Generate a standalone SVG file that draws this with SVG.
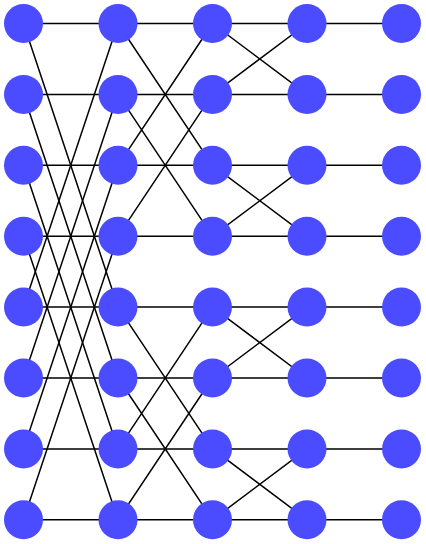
<svg xmlns="http://www.w3.org/2000/svg" width="426" height="544" viewBox="0 0 426 544">
<style>
.e{stroke:#000;stroke-width:1.5;fill:none}
.n{fill:#4b4bff}
</style>
<rect width="426" height="544" fill="#fff"/>
<g id="connectors" class="e">
<!-- stage 0-1: straight + distance 4 -->
<path d="M23.5 23.5H118M23.5 94.4H118M23.5 165.3H118M23.5 236.2H118M23.5 307.1H118M23.5 378H118M23.5 448.9H118M23.5 519.8H118"/>
<path d="M23.5 23.5L118 307.1M23.5 94.4L118 378M23.5 165.3L118 448.9M23.5 236.2L118 519.8"/>
<path d="M23.5 307.1L118 23.5M23.5 378L118 94.4M23.5 448.9L118 165.3M23.5 519.8L118 236.2"/>
<!-- stage 1-2: straight + distance 2 -->
<path d="M118 23.5H212.5M118 94.4H212.5M118 165.3H212.5M118 236.2H212.5M118 307.1H212.5M118 378H212.5M118 448.9H212.5M118 519.8H212.5"/>
<path d="M118 23.5L212.5 165.3M118 94.4L212.5 236.2M118 165.3L212.5 23.5M118 236.2L212.5 94.4"/>
<path d="M118 307.1L212.5 448.9M118 378L212.5 519.8M118 448.9L212.5 307.1M118 519.8L212.5 378"/>
<!-- stage 2-3: straight + distance 1 -->
<path d="M212.5 23.5H307M212.5 94.4H307M212.5 165.3H307M212.5 236.2H307M212.5 307.1H307M212.5 378H307M212.5 448.9H307M212.5 519.8H307"/>
<path d="M212.5 23.5L307 94.4M212.5 94.4L307 23.5M212.5 165.3L307 236.2M212.5 236.2L307 165.3"/>
<path d="M212.5 307.1L307 378M212.5 378L307 307.1M212.5 448.9L307 519.8M212.5 519.8L307 448.9"/>
<!-- stage 3-4: straight -->
<path d="M307 23.5H401.5M307 94.4H401.5M307 165.3H401.5M307 236.2H401.5M307 307.1H401.5M307 378H401.5M307 448.9H401.5M307 519.8H401.5"/>
</g>
<g id="col0" class="n">
<circle id="n0_0" cx="23.5" cy="23.5" r="19.5"/>
<circle id="n0_1" cx="23.5" cy="94.4" r="19.5"/>
<circle id="n0_2" cx="23.5" cy="165.3" r="19.5"/>
<circle id="n0_3" cx="23.5" cy="236.2" r="19.5"/>
<circle id="n0_4" cx="23.5" cy="307.1" r="19.5"/>
<circle id="n0_5" cx="23.5" cy="378" r="19.5"/>
<circle id="n0_6" cx="23.5" cy="448.9" r="19.5"/>
<circle id="n0_7" cx="23.5" cy="519.8" r="19.5"/>
</g>
<g id="col1" class="n">
<circle id="n1_0" cx="118" cy="23.5" r="19.5"/>
<circle id="n1_1" cx="118" cy="94.4" r="19.5"/>
<circle id="n1_2" cx="118" cy="165.3" r="19.5"/>
<circle id="n1_3" cx="118" cy="236.2" r="19.5"/>
<circle id="n1_4" cx="118" cy="307.1" r="19.5"/>
<circle id="n1_5" cx="118" cy="378" r="19.5"/>
<circle id="n1_6" cx="118" cy="448.9" r="19.5"/>
<circle id="n1_7" cx="118" cy="519.8" r="19.5"/>
</g>
<g id="col2" class="n">
<circle id="n2_0" cx="212.5" cy="23.5" r="19.5"/>
<circle id="n2_1" cx="212.5" cy="94.4" r="19.5"/>
<circle id="n2_2" cx="212.5" cy="165.3" r="19.5"/>
<circle id="n2_3" cx="212.5" cy="236.2" r="19.5"/>
<circle id="n2_4" cx="212.5" cy="307.1" r="19.5"/>
<circle id="n2_5" cx="212.5" cy="378" r="19.5"/>
<circle id="n2_6" cx="212.5" cy="448.9" r="19.5"/>
<circle id="n2_7" cx="212.5" cy="519.8" r="19.5"/>
</g>
<g id="col3" class="n">
<circle id="n3_0" cx="307" cy="23.5" r="19.5"/>
<circle id="n3_1" cx="307" cy="94.4" r="19.5"/>
<circle id="n3_2" cx="307" cy="165.3" r="19.5"/>
<circle id="n3_3" cx="307" cy="236.2" r="19.5"/>
<circle id="n3_4" cx="307" cy="307.1" r="19.5"/>
<circle id="n3_5" cx="307" cy="378" r="19.5"/>
<circle id="n3_6" cx="307" cy="448.9" r="19.5"/>
<circle id="n3_7" cx="307" cy="519.8" r="19.5"/>
</g>
<g id="col4" class="n">
<circle id="n4_0" cx="401.5" cy="23.5" r="19.5"/>
<circle id="n4_1" cx="401.5" cy="94.4" r="19.5"/>
<circle id="n4_2" cx="401.5" cy="165.3" r="19.5"/>
<circle id="n4_3" cx="401.5" cy="236.2" r="19.5"/>
<circle id="n4_4" cx="401.5" cy="307.1" r="19.5"/>
<circle id="n4_5" cx="401.5" cy="378" r="19.5"/>
<circle id="n4_6" cx="401.5" cy="448.9" r="19.5"/>
<circle id="n4_7" cx="401.5" cy="519.8" r="19.5"/>
</g>
</svg>
